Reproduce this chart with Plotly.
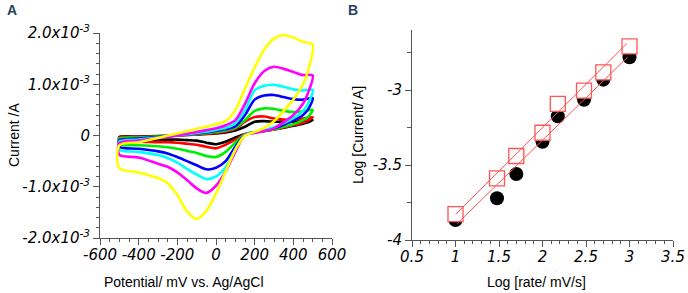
import plotly.graph_objects as go

# ---------------- Panel A data (current in mA, converted to A) ----------------
E_fwd = [-500, -400, -300, -200, -100, 0, 50, 100, 150, 200, 250, 300, 350, 400, 450, 500]
E_rev = [475, 450, 400, 350, 300, 250, 200, 150, 100, 50, 0, -50, -100, -150, -200, -250, -300, -400, -500]

black_fwd = [-0.03, -0.02, -0.01, 0.00, 0.02, 0.04, 0.06, 0.10, 0.17, 0.27, 0.28, 0.27, 0.27, 0.27, 0.28, 0.30]
black_rev = [0.26, 0.23, 0.19, 0.15, 0.12, 0.09, 0.06, 0.03, -0.04, -0.12, -0.17, -0.14, -0.10, -0.09, -0.08, -0.08, -0.08, -0.08, -0.08]

red_fwd = [-0.04, -0.03, -0.02, 0.00, 0.02, 0.05, 0.08, 0.13, 0.27, 0.36, 0.37, 0.33, 0.31, 0.31, 0.33, 0.36]
red_rev = [0.29, 0.25, 0.20, 0.16, 0.12, 0.09, 0.06, 0.02, -0.08, -0.18, -0.25, -0.22, -0.18, -0.16, -0.14, -0.13, -0.13, -0.12, -0.12]

green_fwd = [-0.06, -0.04, -0.02, 0.00, 0.03, 0.07, 0.10, 0.15, 0.30, 0.48, 0.53, 0.52, 0.48, 0.46, 0.47, 0.50]
green_rev = [0.36, 0.30, 0.22, 0.17, 0.12, 0.09, 0.06, 0.02, -0.14, -0.32, -0.42, -0.40, -0.34, -0.30, -0.26, -0.23, -0.21, -0.19, -0.17]

blue_fwd = [-0.09, -0.06, -0.03, 0.00, 0.04, 0.09, 0.12, 0.18, 0.40, 0.70, 0.78, 0.79, 0.75, 0.71, 0.70, 0.73]
blue_rev = [0.50, 0.40, 0.29, 0.21, 0.14, 0.10, 0.06, 0.02, -0.22, -0.50, -0.63, -0.66, -0.58, -0.50, -0.42, -0.35, -0.31, -0.26, -0.22]

cyan_fwd = [-0.12, -0.08, -0.04, 0.00, 0.05, 0.11, 0.15, 0.24, 0.50, 0.88, 0.97, 0.99, 0.95, 0.90, 0.88, 0.89]
cyan_rev = [0.62, 0.48, 0.34, 0.24, 0.16, 0.11, 0.06, 0.02, -0.28, -0.62, -0.80, -0.85, -0.76, -0.65, -0.53, -0.44, -0.38, -0.32, -0.28]

magenta_fwd = [-0.15, -0.10, -0.05, 0.00, 0.07, 0.14, 0.20, 0.30, 0.62, 1.02, 1.26, 1.34, 1.30, 1.24, 1.18, 1.17]
magenta_rev = [0.82, 0.62, 0.40, 0.26, 0.14, 0.09, 0.05, 0.01, -0.32, -0.70, -0.98, -1.12, -1.03, -0.87, -0.72, -0.61, -0.55, -0.43, -0.38]

yellow_fwd = [-0.19, -0.13, -0.05, 0.04, 0.13, 0.22, 0.28, 0.50, 0.92, 1.33, 1.68, 1.89, 1.96, 1.91, 1.83, 1.77]
yellow_rev = [1.25, 1.00, 0.70, 0.48, 0.28, 0.15, 0.07, 0.00, -0.28, -0.70, -1.13, -1.47, -1.63, -1.48, -1.16, -0.93, -0.83, -0.72, -0.64]

cv_series = [
    ("black", black_fwd, black_rev),
    ("#ff0000", red_fwd, red_rev),
    ("#00ee00", green_fwd, green_rev),
    ("#0000ff", blue_fwd, blue_rev),
    ("#00ffff", cyan_fwd, cyan_rev),
    ("#ff00ff", magenta_fwd, magenta_rev),
    ("#ffff00", yellow_fwd, yellow_rev),
]

A_yticks = [-2e-3, -1e-3, 0, 1e-3, 2e-3]
A_yticktext = ["<i>-2.0x10<sup>-3</sup></i>", "<i>-1.0x10<sup>-3</sup></i>", "<i>0</i>",
               "<i>1.0x10<sup>-3</sup></i>", "<i>2.0x10<sup>-3</sup></i>"]
A_xticks = [-600, -400, -200, 0, 200, 400, 600]
A_xticktext = ["<i>%d</i>" % v for v in A_xticks]

# ---------------- Panel B data ----------------
log_rate = [1.0, 1.477, 1.699, 2.0, 2.176, 2.477, 2.699, 3.0]
log_i_circle = [-3.867, -3.722, -3.560, -3.345, -3.175, -3.065, -2.931, -2.782]
log_i_square = [-3.827, -3.589, -3.440, -3.285, -3.093, -3.004, -2.882, -2.709]
fit_up_x = [1.0, 2.97]
fit_up_y = [-3.83, -2.69]
fit_lo_x = [1.02, 2.98]
fit_lo_y = [-3.89, -2.78]

B_xticks = [0.5, 1, 1.5, 2, 2.5, 3, 3.5]
B_xticktext = ["<i>0.5</i>", "<i>1</i>", "<i>1.5</i>", "<i>2</i>", "<i>2.5</i>", "<i>3</i>", "<i>3.5</i>"]
B_yticks = [-4, -3.5, -3]
B_yticktext = ["<i>-4</i>", "<i>-3.5</i>", "<i>-3</i>"]

fig = go.Figure()

for color, fwd, rev in cv_series:
    xs = E_fwd + E_rev + [E_fwd[0]]
    ys = [v * 1e-3 for v in (fwd + rev + [fwd[0]])]
    fig.add_trace(go.Scatter(x=xs, y=ys, mode="lines",
                             line=dict(color=color, width=2.6, shape="spline", smoothing=0.8),
                             xaxis="x", yaxis="y", showlegend=False, hoverinfo="skip"))

fig.add_trace(go.Scatter(x=log_rate, y=log_i_circle, mode="markers",
                         marker=dict(symbol="circle", size=14, color="black"),
                         xaxis="x2", yaxis="y2", showlegend=False))
fig.add_trace(go.Scatter(x=log_rate, y=log_i_square, mode="markers",
                         marker=dict(symbol="square", size=15, color="white",
                                     line=dict(color="#ff5555", width=1.3)),
                         xaxis="x2", yaxis="y2", showlegend=False))
fig.add_trace(go.Scatter(x=fit_up_x, y=fit_up_y, mode="lines",
                         line=dict(color="#ff5050", width=1),
                         xaxis="x2", yaxis="y2", showlegend=False))
fig.add_trace(go.Scatter(x=fit_lo_x, y=fit_lo_y, mode="lines",
                         line=dict(color="#ff5050", width=1),
                         xaxis="x2", yaxis="y2", showlegend=False))

tickfont = dict(family="DejaVu Sans", size=15, color="black")
axcol = "#555555"
common = dict(showline=True, linecolor=axcol, linewidth=1, showgrid=False, zeroline=False,
              ticks="outside", tickcolor=axcol, tickwidth=1, tickfont=tickfont, automargin=False)

W, H = 688, 293
fig.update_layout(
    width=W, height=H, margin=dict(l=0, r=0, t=0, b=0, pad=0, autoexpand=False),
    showlegend=False,
    paper_bgcolor="white", plot_bgcolor="white",
    xaxis=dict(domain=[100 / W, 332 / W], range=[-600, 600], tickvals=A_xticks, ticktext=A_xticktext,
               ticklen=6, anchor="y", ticklabelstandoff=-3,
               minor=dict(dtick=50, ticklen=3, ticks="outside", tickcolor=axcol), **common),
    yaxis=dict(domain=[(H - 238) / H, (H - 33) / H], range=[-2e-3, 2e-3], tickvals=A_yticks,
               ticktext=A_yticktext, ticklen=6, anchor="x",
               minor=dict(dtick=0.2e-3, ticklen=3, ticks="outside", tickcolor=axcol), **common),
    xaxis2=dict(domain=[412 / W, 673 / W], range=[0.5, 3.5], tickvals=B_xticks, ticktext=B_xticktext,
                ticklen=6, anchor="y2", ticklabelstandoff=-3,
                minor=dict(dtick=0.1, ticklen=3, ticks="outside", tickcolor=axcol), **common),
    yaxis2=dict(domain=[(H - 240) / H, (H - 30) / H], range=[-4, -2.6], tickvals=B_yticks,
                ticktext=B_yticktext, ticklen=6, anchor="x2",
                minor=dict(dtick=0.25, ticklen=4, ticks="outside", tickcolor=axcol), **common),
)

titlefont = dict(family="Liberation Sans", size=14, color="black")
ann = [
    dict(text="<b>A</b>", x=12 / W, y=1 - 10 / H, font=dict(family="Liberation Sans", size=14)),
    dict(text="<b>B</b>", x=353 / W, y=1 - 10 / H, font=dict(family="Liberation Sans", size=14)),
    dict(text="Potential/ mV vs. Ag/AgCl", x=184 / W, y=1 - 282 / H, font=titlefont),
    dict(text="Log [rate/ mV/s]", x=536 / W, y=1 - 282 / H, font=titlefont),
    dict(text="Current /A", x=14 / W, y=1 - 135 / H, textangle=-90, font=titlefont),
    dict(text="Log [Current/ A]", x=358 / W, y=1 - 135 / H, textangle=-90, font=titlefont),
]
for a in ann:
    fig.add_annotation(xref="paper", yref="paper", showarrow=False, xanchor="center", yanchor="middle", **a)

for dx in [521, 547, 557]:
    fig.add_annotation(xref="paper", yref="paper", showarrow=False, x=dx / W, y=1 - 265 / H,
                       yanchor="top", borderpad=0,
                       text=".", font=dict(family="Liberation Sans", size=5, color="#444444"))

fig.write_html("out.html", config={"displayModeBar": False},
               post_script="document.body.style.margin='0px';document.body.style.overflow='hidden';")
